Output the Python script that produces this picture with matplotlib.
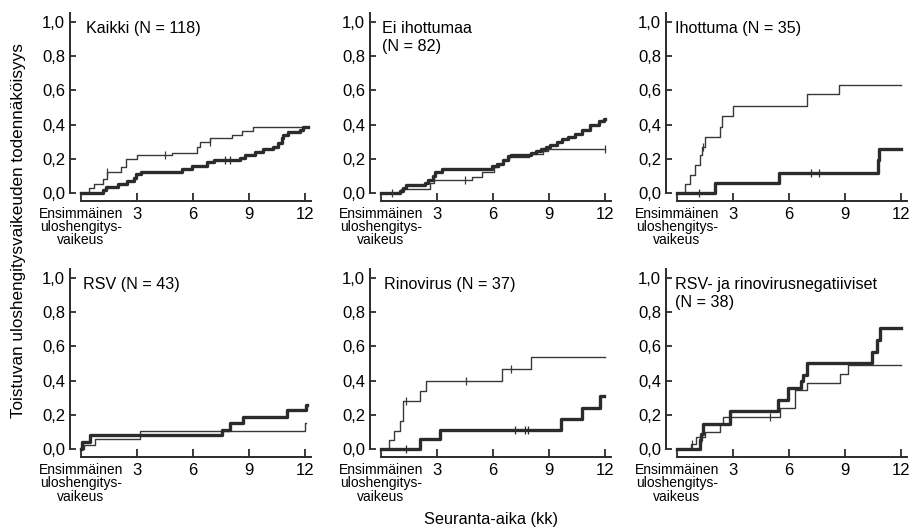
import numpy as np
import matplotlib
matplotlib.use("Agg")
import matplotlib.pyplot as plt

# ---------------- data ----------------
titles = ["Kaikki (N = 118)", "Ei ihottumaa\n(N = 82)", "Ihottuma (N = 35)",
          "RSV (N = 43)", "Rinovirus (N = 37)",
          "RSV- ja rinovirusnegatiiviset\n(N = 38)"]

xticks = [0, 3, 6, 9, 12]
xtick_labels = ["Ensimmäinen\nuloshengitys-\nvaikeus", "3", "6", "9", "12"]
yticks = [0.0, 0.2, 0.4, 0.6, 0.8, 1.0]
ytick_labels = ["0,0", "0,2", "0,4", "0,6", "0,8", "1,0"]

x_label = "Seuranta-aika (kk)"
y_label = "Toistuvan uloshengitysvaikeuden todennäköisyys"

# Kaikki
thin1_t = [0, 0.44, 0.71, 1.16, 1.37, 2.13, 2.4, 3.02, 4.89, 6.22, 6.4, 6.93, 8.09, 8.62, 9.24, 12.15]
thin1_v = [0, 0.03, 0.05, 0.08, 0.12, 0.15, 0.20, 0.22, 0.236, 0.27, 0.30, 0.324, 0.34, 0.36, 0.386, 0.386]
thick1_t = [0, 1.16, 1.33, 1.96, 2.49, 2.84, 2.93, 3.2, 5.42, 5.96, 6.76, 7.11, 8.53, 8.8, 9.33,
            9.78, 10.31, 10.58, 10.76, 10.84, 11.11, 11.73, 11.91, 12.15]
thick1_v = [0, 0.02, 0.036, 0.05, 0.07, 0.09, 0.11, 0.124, 0.14, 0.156, 0.18, 0.19, 0.204, 0.22, 0.24,
            0.26, 0.27, 0.29, 0.32, 0.34, 0.356, 0.37, 0.384, 0.384]
thin1_c = [1.4, 4.5, 6.9]
thick1_c = [7.7, 8.0]

# Ei ihottumaa
thin2_t = [0, 1.09, 2.62, 2.86, 4.89, 5.43, 6.06, 6.33, 6.52, 6.88, 7.96, 8.69, 8.96, 12.0]
thin2_v = [0, 0.026, 0.06, 0.075, 0.094, 0.12, 0.15, 0.17, 0.19, 0.21, 0.23, 0.245, 0.26, 0.26]
thick2_t = [0, 1.0, 1.18, 1.36, 2.35, 2.53, 2.81, 2.9, 3.26, 5.97, 6.24, 6.52, 6.79, 6.97, 8.05, 8.33,
            8.6, 8.87, 9.05, 9.41, 9.68, 10.0, 10.41, 10.77, 11.22, 11.67, 11.95, 12.0]
thick2_v = [0, 0.014, 0.03, 0.046, 0.06, 0.074, 0.10, 0.124, 0.14, 0.16, 0.17, 0.194, 0.214, 0.224,
            0.234, 0.246, 0.26, 0.27, 0.28, 0.30, 0.314, 0.33, 0.346, 0.37, 0.40, 0.42, 0.434, 0.434]
thin2_c = [0.6, 4.5, 12.0]
thick2_c = []

# Ihottuma
thin3_t = [0, 0.45, 0.72, 0.99, 1.25, 1.34, 1.52, 2.29, 2.42, 3.01, 6.99, 8.66, 12.0]
thin3_v = [0, 0.054, 0.107, 0.163, 0.22, 0.27, 0.33, 0.386, 0.45, 0.507, 0.577, 0.63, 0.63]
thick3_t = [0, 2.03, 5.47, 10.75, 10.84, 12.0]
thick3_v = [0, 0.06, 0.117, 0.19, 0.26, 0.26]
thin3_c = [1.4]
thick3_c = [1.2, 7.2, 7.6]

# RSV
thin4_t = [0, 0.15, 0.77, 3.17, 12.0, 12.05]
thin4_v = [0, 0.025, 0.06, 0.105, 0.15, 0.15]
thick4_t = [0, 0.05, 0.5, 7.54, 7.99, 8.7, 11.02, 12.05, 12.1]
thick4_v = [0, 0.042, 0.08, 0.114, 0.152, 0.19, 0.229, 0.257, 0.257]
thin4_c = []
thick4_c = []

# Rinovirus
thin5_t = [0, 0.45, 0.72, 1.03, 1.17, 2.08, 2.44, 6.5, 8.03, 12.0]
thin5_v = [0, 0.054, 0.107, 0.163, 0.28, 0.338, 0.395, 0.465, 0.54, 0.54]
thick5_t = [0, 2.08, 3.16, 9.66, 10.78, 11.73, 11.95]
thick5_v = [0, 0.058, 0.113, 0.173, 0.239, 0.312, 0.312]
thin5_c = [1.35, 4.57, 6.95]
thick5_c = [1.32, 7.2, 7.7, 7.9]

# RSV- ja rinovirusnegatiiviset
thin6_t = [0, 0.77, 1.04, 1.48, 2.29, 2.47, 5.51, 6.31, 6.94, 8.73, 9.18, 12.0]
thin6_v = [0, 0.03, 0.07, 0.10, 0.145, 0.19, 0.24, 0.345, 0.385, 0.44, 0.49, 0.49]
thick6_t = [0, 1.22, 1.31, 1.4, 2.83, 5.42, 5.96, 6.67, 6.76, 6.94, 10.43, 10.7, 10.88, 12.0]
thick6_v = [0, 0.053, 0.09, 0.145, 0.22, 0.287, 0.355, 0.395, 0.43, 0.50, 0.57, 0.64, 0.707, 0.707]
thin6_c = [0.8, 5.0]
thick6_c = [1.3]

panels = [
    (thin1_t, thin1_v, thin1_c, thick1_t, thick1_v, thick1_c),
    (thin2_t, thin2_v, thin2_c, thick2_t, thick2_v, thick2_c),
    (thin3_t, thin3_v, thin3_c, thick3_t, thick3_v, thick3_c),
    (thin4_t, thin4_v, thin4_c, thick4_t, thick4_v, thick4_c),
    (thin5_t, thin5_v, thin5_c, thick5_t, thick5_v, thick5_c),
    (thin6_t, thin6_v, thin6_c, thick6_t, thick6_v, thick6_c),
]

# ---------------- layout / style ----------------
plt.rcParams['font.family'] = ['Liberation Sans', 'DejaVu Sans']
fig = plt.figure(figsize=(9.14, 5.27), dpi=100)

W, H = 0.245, 0.3245
origins = [(0.0886, 0.6338), (0.4168, 0.6338), (0.7407, 0.6338),
           (0.0886, 0.148), (0.4168, 0.148), (0.7407, 0.148)]
title_dx = [0.27, 0.04, -0.1, 0.09, 0.15, -0.1]
INK = "#2b2b2b"
THIN = "#383838"


def censor_y(t, v, c):
    t = np.asarray(t)
    v = np.asarray(v)
    idx = np.searchsorted(t, np.asarray(c, dtype=float), side="right") - 1
    return v[idx]


for i, (tt, tv, tc, kt, kv, kc) in enumerate(panels):
    x0, y0 = origins[i]
    ax = fig.add_axes([x0, y0, W, H])
    ax.set_xlim(0, 12)
    ax.set_ylim(0, 1)
    ax.patch.set_visible(False)

    ax.step(tt, tv, where="post", color=THIN, lw=1.0, clip_on=False)
    ax.step(kt, kv, where="post", color=INK, lw=2.4, clip_on=False)
    if len(tc):
        ax.plot(tc, censor_y(tt, tv, tc), ls="none", marker="|", ms=5.5,
                mew=0.9, color=THIN, clip_on=False)
    if len(kc):
        ax.plot(kc, censor_y(kt, kv, kc), ls="none", marker="|", ms=6,
                mew=0.9, color=INK, clip_on=False)

    for s in ("top", "right"):
        ax.spines[s].set_visible(False)
    ax.spines["left"].set_position(("outward", 7.9))
    ax.spines["bottom"].set_position(("outward", 5.8))
    ax.spines["left"].set_bounds(0, 1.05)
    ax.spines["bottom"].set_bounds(0, 12.35)
    for s in ("left", "bottom"):
        ax.spines[s].set_linewidth(1.4)
        ax.spines[s].set_color(INK)

    ax.set_xticks(xticks)
    ax.set_xticklabels(xtick_labels)
    ax.set_yticks(yticks)
    ax.set_yticklabels(ytick_labels)
    ax.tick_params(axis="x", direction="in", length=6, width=1.3, pad=4.0,
                   labelsize=12, color=INK)
    ax.tick_params(axis="y", direction="in", length=4.3, width=1.3, pad=3.5,
                   labelsize=12, color=INK)
    lab0 = ax.get_xticklabels()[0]
    lab0.set_fontsize(10)
    lab0.set_linespacing(0.95)

    ax.text(title_dx[i], 1.005, titles[i], ha="left", va="top",
            fontsize=11.6, linespacing=1.2)

fig.text(0.537, 0.0145, x_label, ha="center", va="center", fontsize=11.7)
fig.text(0.0197, 0.5626, y_label, ha="center", va="center", rotation=90,
         fontsize=12.3)

fig.savefig("out.png", dpi=100)
